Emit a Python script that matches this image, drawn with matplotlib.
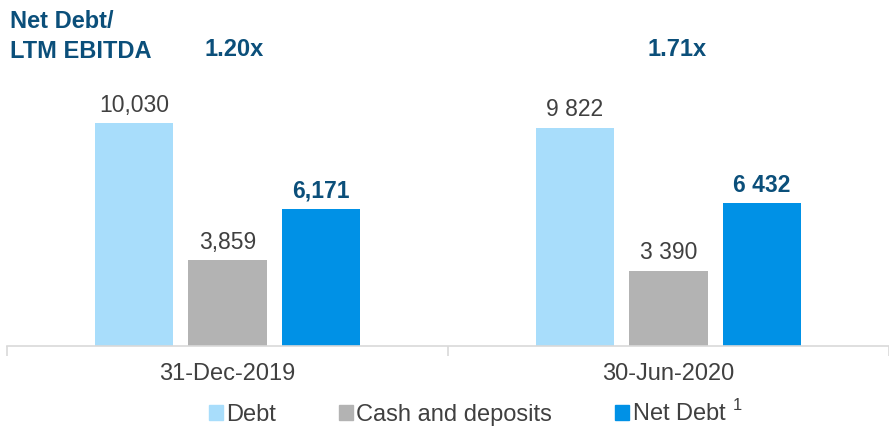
import matplotlib.pyplot as plt
from matplotlib.patches import Patch

plt.rcParams['font.family'] = ['Liberation Sans', 'DejaVu Sans']
plt.rcParams['mathtext.fontset'] = 'custom'
plt.rcParams['mathtext.rm'] = 'Liberation Sans'

periods = ['31-Dec-2019', '30-Jun-2020']
series = ['Debt', 'Cash and deposits', 'Net Debt']
debt = [10030, 9822]
cash = [3859, 3390]
net_debt = [6171, 6432]
debt_labels = ['10,030', '9 822']
cash_labels = ['3,859', '3 390']
net_labels = ['6,171', '6 432']
ratios = ['1.20x', '1.71x']

colors = ['#A8DDFB', '#B3B3B3', '#0091E6']
dark_blue = '#0B4F7A'
grey_text = '#404040'

fig = plt.figure(figsize=(8.89, 4.29), dpi=100)
# axes placed in pixels: x 7..889, y bottom 346 (from top), top at 100
ax = fig.add_axes([7 / 889, (429 - 346) / 429, 882 / 889, 246 / 429])

w = 0.178
off = 0.212
x = [0, 1]
values = [debt, cash, net_debt]
labels = [debt_labels, cash_labels, net_labels]
for k in range(3):
    xs = [xi + (k - 1) * off for xi in x]
    ax.bar(xs, values[k], width=w, color=colors[k])
    for xi, v, lab in zip(xs, values[k], labels[k]):
        if k == 2:
            ax.text(xi, v + 280, lab, ha='center', va='bottom', fontsize=16.5,
                    color=dark_blue, fontweight='bold')
        else:
            ax.text(xi, v + 280, lab, ha='center', va='bottom', fontsize=16.5,
                    color=grey_text)

ax.set_xlim(-0.5, 0.49)
ax.set_ylim(0, 11066)
for s in ['top', 'right', 'left']:
    ax.spines[s].set_visible(False)
ax.spines['bottom'].set_color('#D9D9D9')
ax.spines['bottom'].set_linewidth(1.2)
ax.set_yticks([])
ax.set_xticks(x)
ax.set_xticklabels(periods, fontsize=17, color=grey_text)
ax.tick_params(axis='x', length=0, pad=12)
ax.set_xticks([-0.5, 0.5, 1.5], minor=True)
ax.tick_params(axis='x', which='minor', length=7, color='#D9D9D9', width=1.2)

fig.text(10 / 889, 1 - 22 / 429, 'Net Debt/', fontsize=17, fontweight='bold',
         color=dark_blue, va='center')
fig.text(10 / 889, 1 - 51 / 429, 'LTM EBITDA', fontsize=17, fontweight='bold',
         color=dark_blue, va='center')
for xi, r in zip(x, ratios):
    xp = (7 + (xi + 0.5) * 443) / 889
    fig.text(xp + 6 / 889, 1 - 49 / 429, r, fontsize=17, fontweight='bold',
             color=dark_blue, va='center', ha='center')

handles = [Patch(color=c) for c in colors]
leg_labels = ['Debt', 'Cash and deposits', 'Net Debt $^{1}$']
fig.legend(handles, leg_labels, ncol=3, loc='center', bbox_to_anchor=(0.535, 1 - 413 / 429),
           frameon=False, fontsize=17, handlelength=0.62, handleheight=0.62,
           handletextpad=0.12, columnspacing=2.65, labelcolor=grey_text,
           borderpad=0)

fig.savefig('out.png', dpi=100)
